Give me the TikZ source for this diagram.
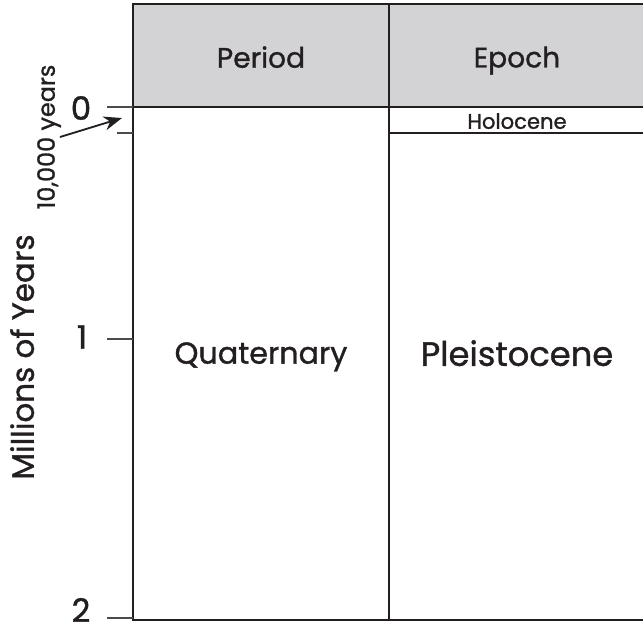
\documentclass[tikz,border=0pt]{standalone}
\usepackage{fontspec}
\setmainfont{Poppins}[FakeBold=1.1]
\usetikzlibrary{arrows.meta}
\definecolor{headgray}{RGB}{211,211,213}
\definecolor{inkgray}{RGB}{35,31,32}
\begin{document}
\begin{tikzpicture}[x=0.025cm, y=-0.025cm]
\tikzstyle{rule}   = [line width=1.5pt, inkgray]
\tikzstyle{tick}   = [line width=0.8pt, black!70]
\tikzstyle{label}  = [inkgray, inner sep=0pt, text depth=0pt]
\tikzstyle{yaxis}  = [label, font=\fontsize{23}{27}\selectfont]
\useasboundingbox (0,0) rectangle (643,632);
% header band and grid
\fill[headgray] (133,4) rectangle (643,107);
\draw[rule] (643,4) -- (133,4) -- (133,620) -- (643,620);
\draw[rule] (389,4) -- (389,620);
\draw[rule] (133,107) -- (643,107);
\draw[rule] (389,133) -- (643,133);
% scale ticks
\coordinate (t_0) at (107,107);
\coordinate (t_1) at (107,339);
\coordinate (t_2) at (107,618);
\coordinate (t_h) at (117,133);
\draw[tick] (t_0) -- (133,107);
\draw[tick] (t_1) -- (133,339);
\draw[tick] (t_2) -- (133,618);
\draw[tick] (t_h) -- (133,133);
\node[yaxis] at (81,108) (n_0) {0};
\node[yaxis] at (82,337) (n_1) {1};
\node[yaxis] at (81,610) (n_2) {2};
\node[label, rotate=90, font=\fontsize{22}{26}\selectfont] at (22,357) (axis) {Millions of Years};
\node[label, rotate=90, font=\fontsize{17}{20}\selectfont] at (46,137) (tenk) {10,000 years};
\coordinate (a_tail) at (60,137);
\coordinate (a_tip) at (122,118);
\draw[-{Stealth[length=13pt, width=10pt]}, line width=1.3pt, inkgray] (a_tail) -- (a_tip);
% column texts
\node[label, font=\fontsize{20}{24}\selectfont] at (261,57) (period) {Period};
\node[label, font=\fontsize{20}{24}\selectfont] at (517,57) (epoch) {Epoch};
\node[label, font=\fontsize{15}{18}\selectfont] at (517,121) (holo) {Holocene};
\node[label, font=\fontsize{21.5}{25}\selectfont] at (261,353) (quat) {Quaternary};
\node[label, font=\fontsize{24}{28}\selectfont] at (517,353) (pleist) {Pleistocene};
\end{tikzpicture}
\end{document}
